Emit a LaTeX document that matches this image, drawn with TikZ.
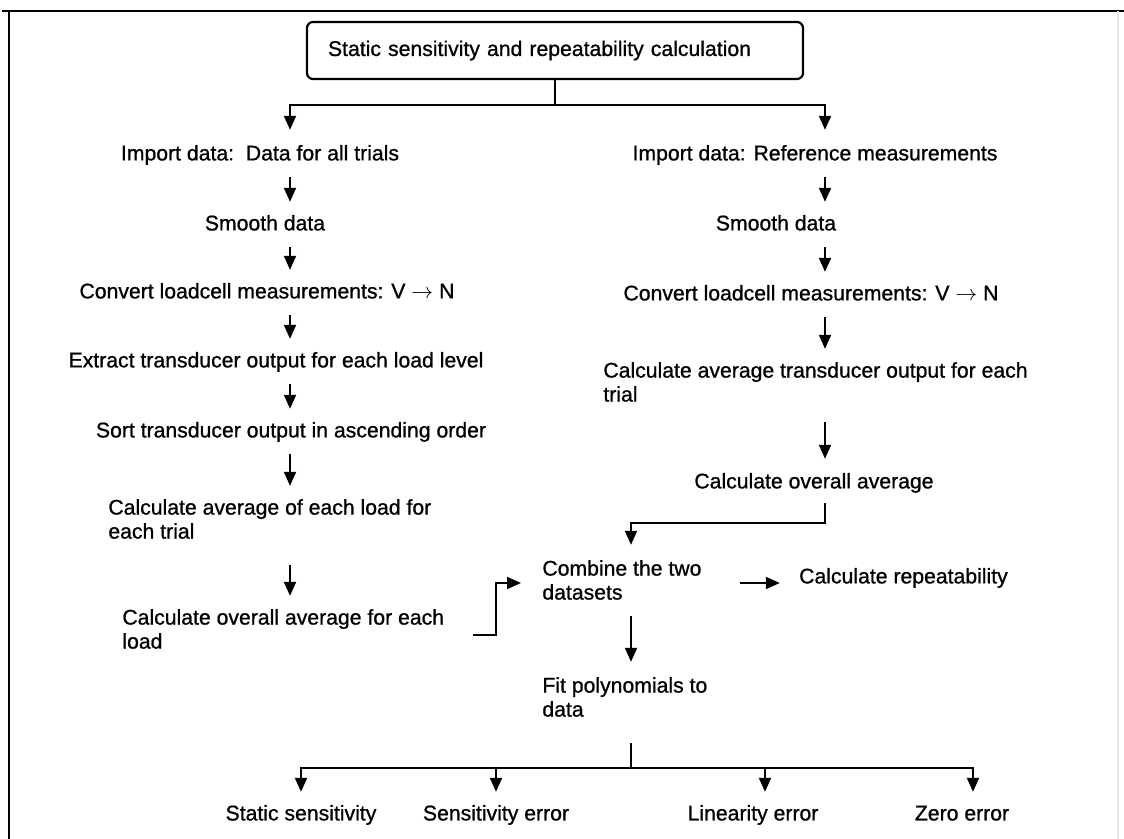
\documentclass[tikz,border=0pt]{standalone}
\usepackage{fontspec}
\setmainfont{Liberation Sans}[BoldFont=Liberation Sans, BoldFeatures={FakeBold=0.9}]
\usetikzlibrary{arrows.meta}
\begin{document}
\begin{tikzpicture}[x=0.5pt,y=-0.5pt,
  lbl/.style={inner sep=0pt, font=\fontsize{10.6}{12}\selectfont\bfseries},
  one/.style={lbl, text height=7.6pt, text depth=2.2pt},
  two/.style={lbl, align=left, anchor=west},
  link/.style={line width=1pt},
  arr/.style={link, -{Triangle[length=7pt,width=6pt]}},
  gapA/.style={shorten <=6pt, shorten >=6.5pt},
]
\useasboundingbox (0,0) rectangle (1124,839);

% outer frame
\draw[line width=1pt] (2,11) -- (1124,11);
\draw[line width=1pt] (9,11) -- (9,839);
\draw[line width=0.6pt, black!10] (1118,11) -- (1118,839);

% heading box
\node[lbl, draw, line width=1.1pt, rounded corners=3pt, inner xsep=10.5pt,
      text width=227pt, align=left, minimum height=28.5pt] (title) at (555,50.5)
  {Static sensitivity and repeatability calculation};

% column guide coordinates for the vertical arrows
\coordinate (colL) at (290,0);
\coordinate (colR) at (825,0);
\coordinate (colC) at (631,0);

% left branch
\node[one] (impL) at (260,155) {Import data:\ \ Data for all trials};
\node[one] (smoL) at (265,225) {Smooth data};
\node[one] (conL) at (267,293) {Convert loadcell measurements: V $\rightarrow$ N};
\node[one] (extL) at (276,362) {Extract transducer output for each load level};
\node[one] (sorL) at (291,432) {Sort transducer output in ascending order};
\node[two] (avgL) at (108,519) {Calculate average of each load for\\each trial};
\node[two] (ovL) at (122,629) {Calculate overall average for each\\load};

% right branch
\node[one] (impR) at (815,155) {Import data: Reference measurements};
\node[one] (smoR) at (776,225) {Smooth data};
\node[one] (conR) at (811,295) {Convert loadcell measurements: V $\rightarrow$ N};
\node[two] (avgR) at (603,382) {Calculate average transducer output for each\\trial};
\node[one] (ovR) at (814,483) {Calculate overall average};

% merged part
\node[two] (comb) at (542,580) {Combine the two\\datasets};
\node[one] (rep) at (903.5,578) {Calculate repeatability};
\node[two] (fit) at (542,697) {Fit polynomials to\\data};

% results
\node[one] (s1) at (301,815) {Static sensitivity};
\node[one] (s2) at (496,815) {Sensitivity error};
\node[one] (s3) at (753,815) {Linearity error};
\node[one] (s4) at (962,815) {Zero error};

% split below the heading
\coordinate (hs) at (555,105);
\draw[link] (title.south) -- (hs);
\draw[arr, shorten >=7.5pt] (hs) -| (impL.north -| colL);
\draw[arr, shorten >=7.5pt] (hs) -| (impR.north -| colR);

% left chain
\draw[arr, gapA] (impL.south -| colL) -- (smoL.north -| colL);
\draw[arr, gapA] (smoL.south -| colL) -- (conL.north -| colL);
\draw[arr, gapA] (conL.south -| colL) -- (extL.north -| colL);
\draw[arr, gapA] (extL.south -| colL) -- (sorL.north -| colL);
\draw[arr, gapA] (sorL.south -| colL) -- (avgL.north -| colL);
\draw[arr, shorten <=13pt, shorten >=6.5pt] (avgL.south -| colL) -- (ovL.north -| colL);

% right chain
\draw[arr, gapA] (impR.south -| colR) -- (smoR.north -| colR);
\draw[arr, gapA] (smoR.south -| colR) -- (conR.north -| colR);
\draw[arr, gapA] (conR.south -| colR) -- (avgR.north -| colR);
\draw[arr, shorten <=10pt, shorten >=7pt] (avgR.south -| colR) -- (ovR.north -| colR);

% both branches join
\draw[arr, shorten <=5pt, shorten >=7.5pt] (ovR.south -| colR) -- ++(0,30) -| (comb.north -| colC);
\draw[arr, shorten <=14pt, shorten >=10.5pt] ([yshift=-3pt]ovL.east) -- ++(51,0) |- ([yshift=-1.5pt]comb.west);
\draw[arr, shorten <=19pt, shorten >=9.5pt] ([yshift=-1.5pt]comb.east) -- ([yshift=-2.5pt]rep.west);
\draw[arr, shorten <=8pt, shorten >=7.5pt] (comb.south -| colC) -- (fit.north -| colC);

% fan-out to the results
\coordinate (hb) at (631,768);
\draw[link, shorten <=13pt] (fit.south -| colC) -- (hb);
\draw[arr, shorten >=6.5pt] (hb) -| (s1.north);
\draw[arr, shorten >=6.5pt] (hb) -| (s2.north);
\draw[arr, shorten >=6.5pt] (hb) -| ([xshift=6pt]s3.north);
\draw[arr, shorten >=6.5pt] (hb) -| ([xshift=5.5pt]s4.north);
\end{tikzpicture}
\end{document}
